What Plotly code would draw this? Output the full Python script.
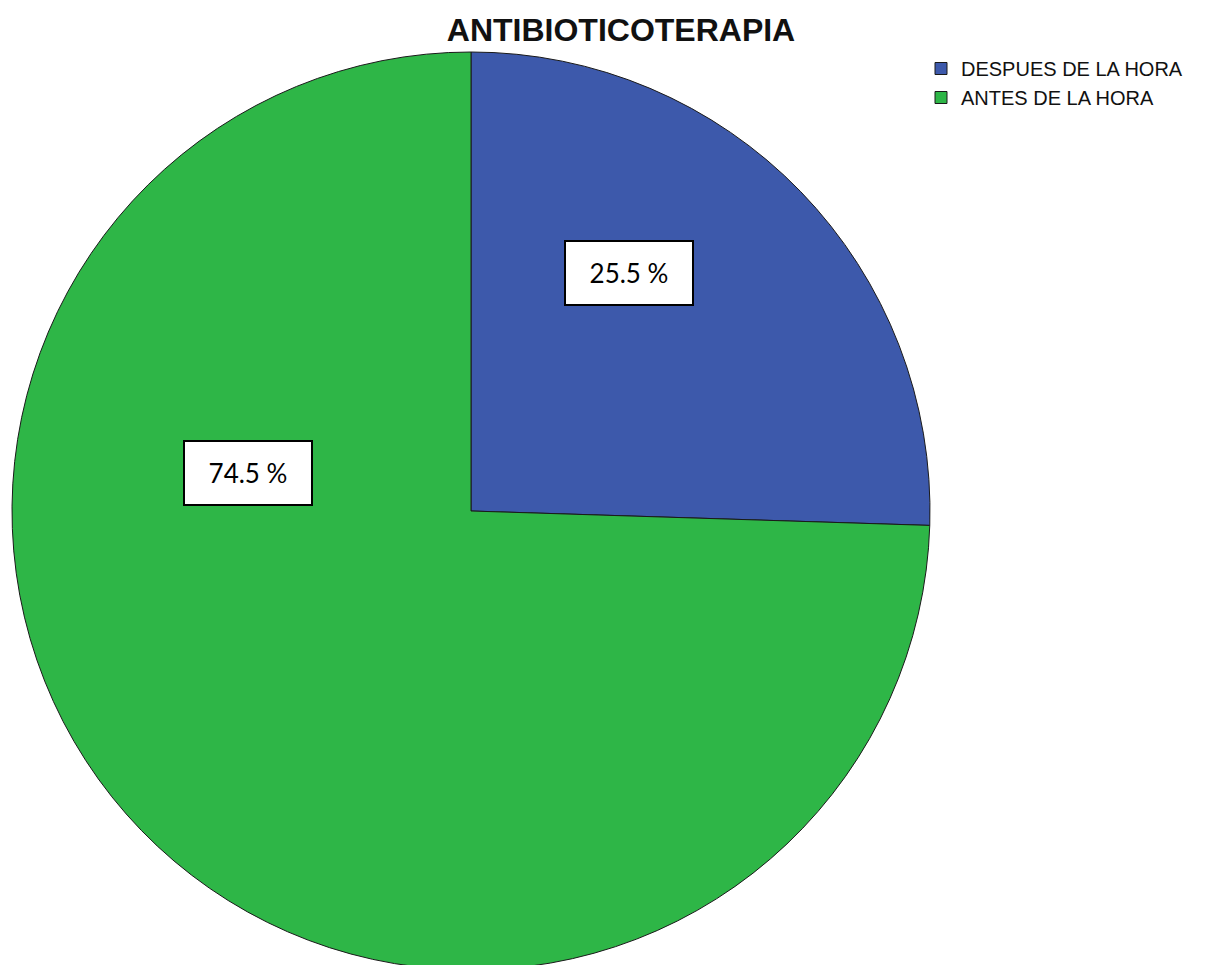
import plotly.graph_objects as go

labels = ["DESPUES DE LA HORA", "ANTES DE LA HORA"]
values = [25.5, 74.5]
colors = ["#3D59AB", "#2EB647"]
title = "ANTIBIOTICOTERAPIA"

W, H = 1205, 965
cx, cy, r = 463, 503, 459

fig = go.Figure()
fig.add_trace(go.Pie(
    labels=labels, values=values, sort=False, direction="clockwise", rotation=0,
    marker=dict(colors=colors, line=dict(color="#1a1a1a", width=1)),
    textinfo="none", hoverinfo="label+percent",
    domain=dict(x=[(cx - r) / W, (cx + r) / W], y=[1 - (cy + r) / H, 1 - (cy - r) / H]),
))

label_pos = [(621, 265), (240, 465)]
for v, (px, py) in zip(values, label_pos):
    fig.add_annotation(
        x=px / W, y=1 - py / H, xref="paper", yref="paper",
        xanchor="center", yanchor="middle",
        text=f"{v:.1f} %", showarrow=False,
        font=dict(family="Lato, Open Sans, sans-serif", size=26, color="black"),
        bgcolor="white", bordercolor="black", borderwidth=2, borderpad=0,
        width=126, height=62, align="center", valign="middle",
    )

fig.update_layout(
    width=W, height=H,
    margin=dict(l=0, r=0, t=0, b=0),
    paper_bgcolor="white", plot_bgcolor="white",
    title=dict(text=f"<b>{title}</b>", x=613 / W, xanchor="center", y=1 - 22 / H, yanchor="middle",
               font=dict(family="Liberation Sans, Arial, sans-serif", size=32, color="#111")),
    showlegend=True,
    legend=dict(x=913 / W, y=1 - 41 / H, xanchor="left", yanchor="top",
                font=dict(family="Liberation Sans, Arial, sans-serif", size=20, color="#111"),
                tracegroupgap=0, itemwidth=30, bgcolor="rgba(0,0,0,0)"),
)

fig.write_html("out.html")
